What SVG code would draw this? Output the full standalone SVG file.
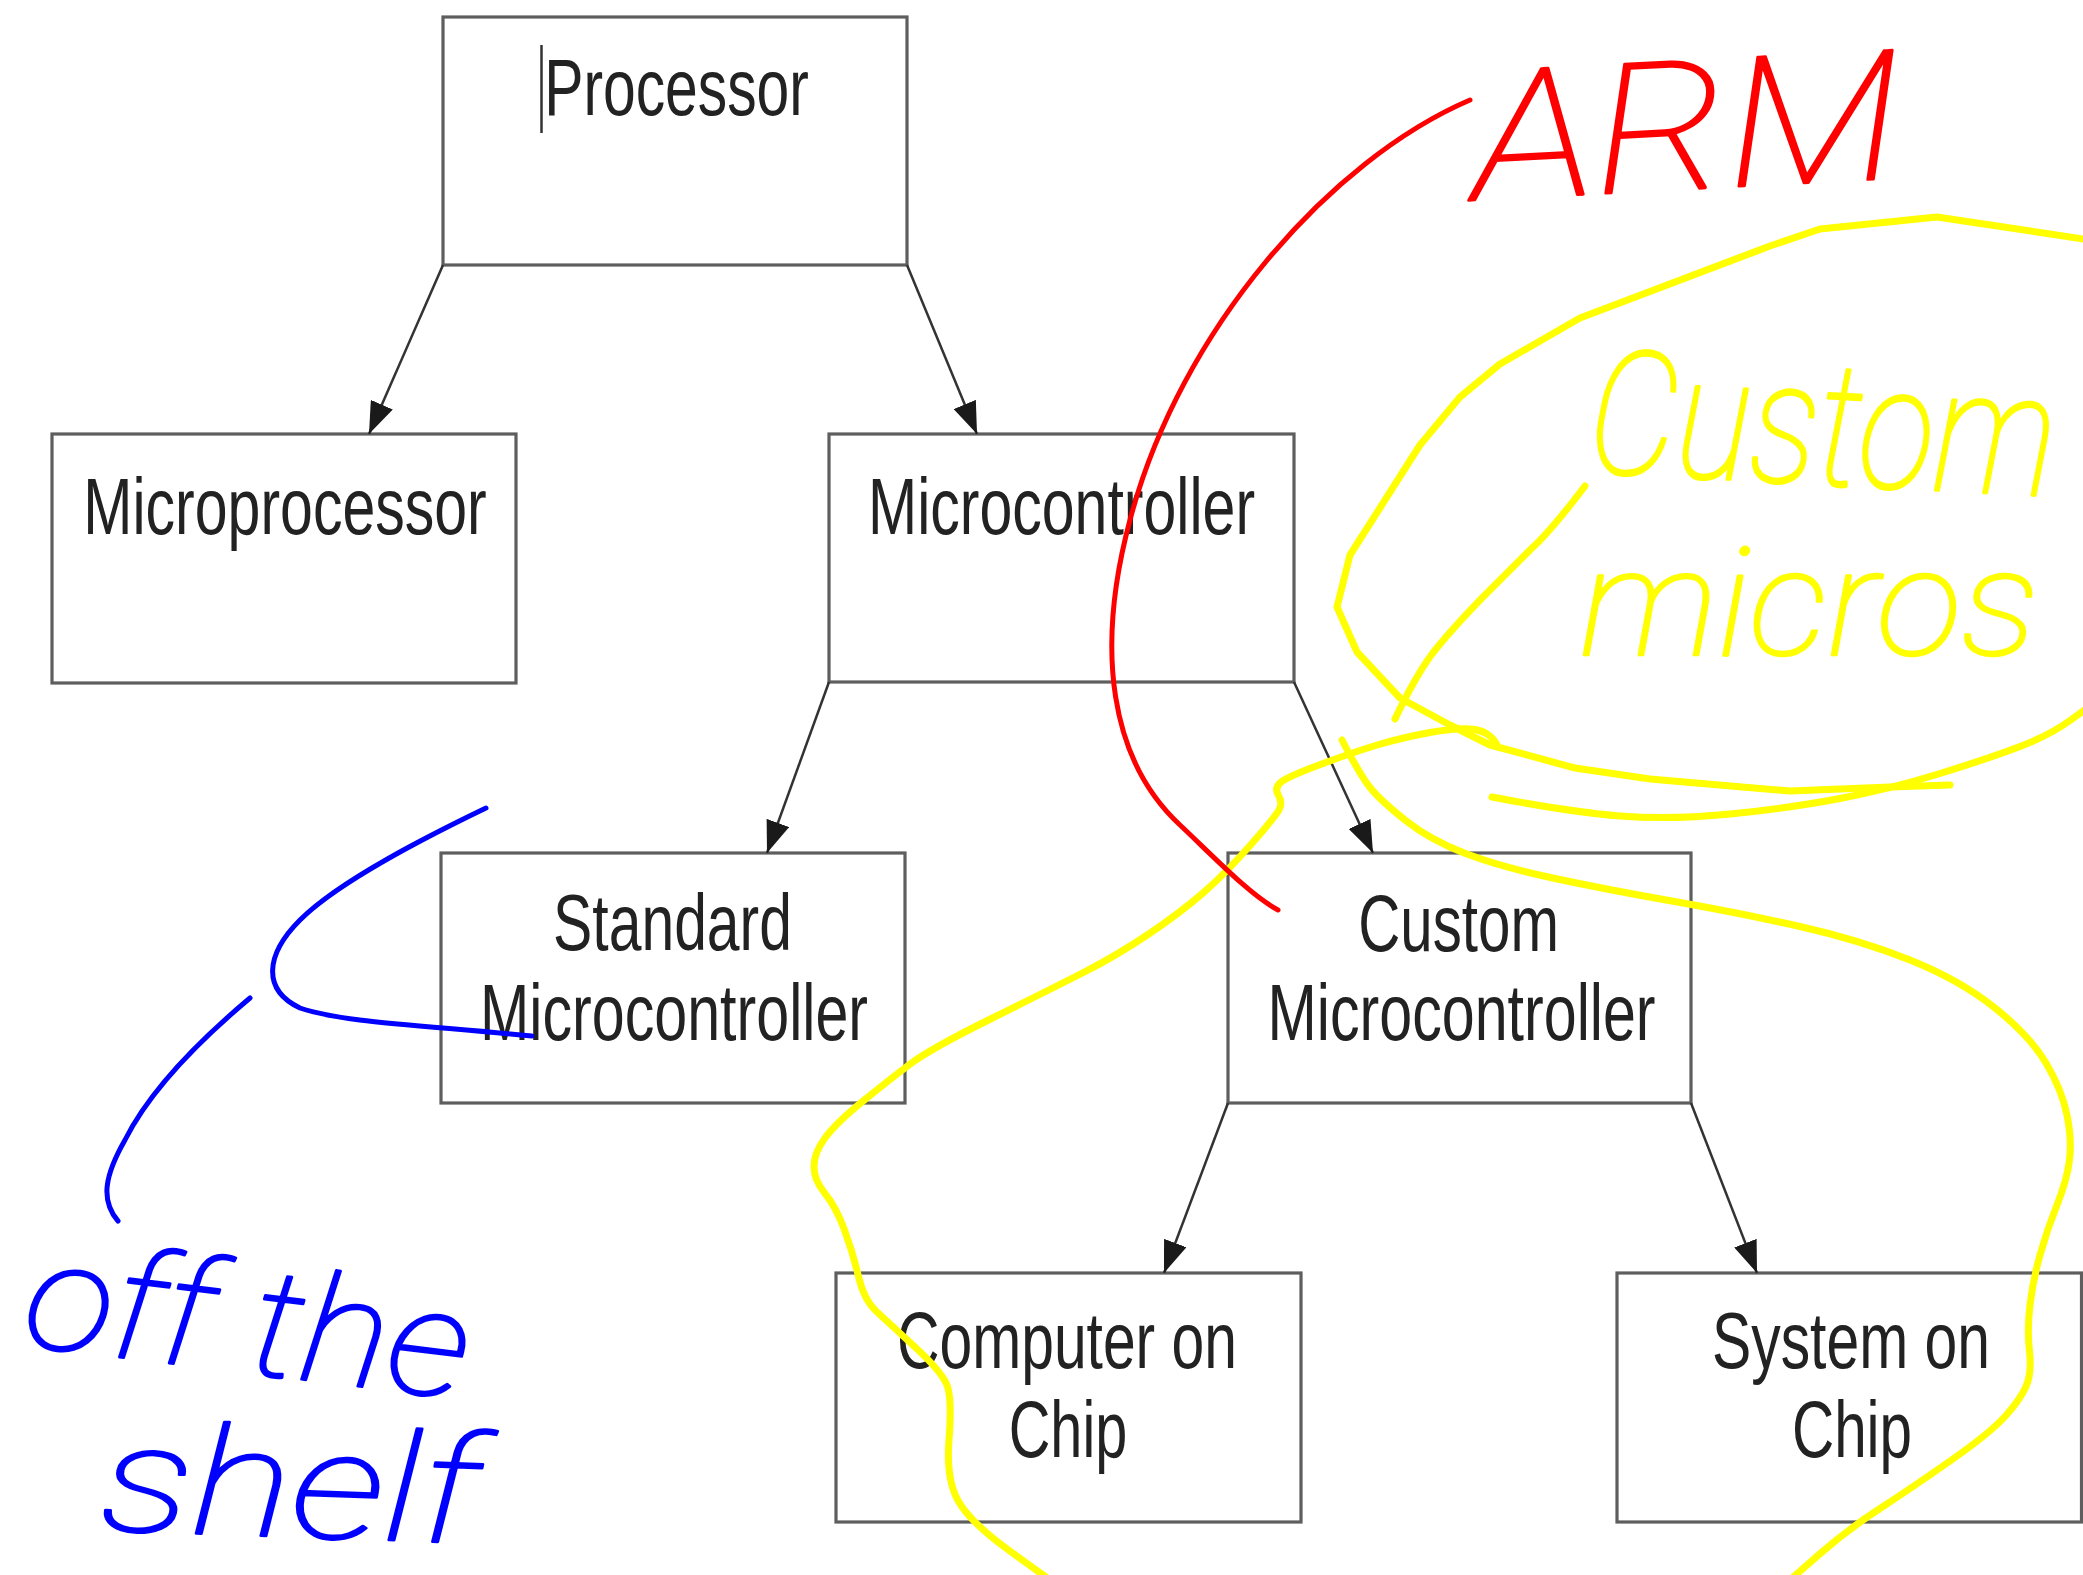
<svg xmlns="http://www.w3.org/2000/svg" width="2083" height="1575" viewBox="0 0 2083 1575">
<style>
.box{fill:#fff;stroke:#5e5e5e;stroke-width:3.2}
.lbl{font-family:"Liberation Sans",Arial,sans-serif;font-size:80px;fill:#222;text-anchor:middle}
.conn{stroke:#333;stroke-width:2.5;fill:none;marker-end:url(#arr)}
.ink{fill:none;stroke-linecap:round;stroke-linejoin:round}
.y{stroke:#ffff00;stroke-width:7}
.r{stroke:#ff0000;stroke-width:5}
.b{stroke:#0000ff;stroke-width:5}
.hw{font-family:Roboto,"Noto Sans","DejaVu Sans",sans-serif;font-weight:100;font-style:italic;stroke-width:2.5;stroke-linejoin:round}
.hy{fill:#ffff00;stroke:#ffff00}
.hr{fill:#ff0000;stroke:#ff0000}
.hb{fill:#0000ff;stroke:#0000ff}
</style>
<defs>
<marker id="arr" markerUnits="userSpaceOnUse" viewBox="0 0 32 24" markerWidth="32" markerHeight="24" refX="32" refY="12" orient="auto">
<path d="M0,0 L32,12 L0,24 z" fill="#1a1a1a"/>
</marker>
</defs>
<rect width="2083" height="1575" fill="#fff"/>

<g id="node-processor">
<rect class="box" x="443" y="17" width="464" height="248"/>
<text class="lbl" transform="translate(676.5,115) scale(0.735,1)">Processor</text>
<line x1="541.5" y1="45" x2="541.5" y2="133" stroke="#333" stroke-width="2.5"/>
</g>
<g id="node-microprocessor">
<rect class="box" x="52" y="434" width="464" height="249"/>
<text class="lbl" transform="translate(285,534) scale(0.738,1)">Microprocessor</text>
</g>
<g id="node-microcontroller">
<rect class="box" x="829" y="434" width="465" height="248"/>
<text class="lbl" transform="translate(1061.5,534) scale(0.738,1)">Microcontroller</text>
</g>
<g id="node-standard">
<rect class="box" x="441" y="853" width="464" height="250"/>
<text class="lbl" transform="translate(672.5,950) scale(0.736,1)">Standard</text>
<text class="lbl" transform="translate(674,1040) scale(0.74,1)">Microcontroller</text>
</g>
<g id="node-custom">
<rect class="box" x="1228" y="853" width="463" height="250"/>
<text class="lbl" transform="translate(1458.6,951) scale(0.728,1)">Custom</text>
<text class="lbl" transform="translate(1461.5,1040) scale(0.74,1)">Microcontroller</text>
</g>
<g id="node-computer-on-chip">
<rect class="box" x="836" y="1273" width="465" height="249"/>
<text class="lbl" transform="translate(1067,1368) scale(0.735,1)">Computer on</text>
<text class="lbl" transform="translate(1068,1457) scale(0.72,1)">Chip</text>
</g>
<g id="node-system-on-chip">
<rect class="box" x="1617" y="1273" width="464.5" height="249"/>
<text class="lbl" transform="translate(1851,1368) scale(0.736,1)">System on</text>
<text class="lbl" transform="translate(1852,1457) scale(0.73,1)">Chip</text>
</g>

<g id="connectors">
<line class="conn" x1="443" y1="265" x2="369" y2="434"/>
<line class="conn" x1="907" y1="265" x2="977" y2="434"/>
<line class="conn" x1="829" y1="682" x2="767" y2="853"/>
<line class="conn" x1="1294" y1="682" x2="1373" y2="853"/>
<line class="conn" x1="1228" y1="1103" x2="1164" y2="1273"/>
<line class="conn" x1="1691" y1="1103" x2="1757" y2="1273"/>
</g>

<g id="ink-yellow">
<polyline class="ink y" points="2090,240 1937,217 1820,229 1770,246 1580,318 1500,364 1460,397 1420,445 1350,555 1337,607 1357,652 1400,698 1450,725 1490,745 1575,768 1650,779 1790,791 1890,787 1950,785"/>
<path class="ink y" d="M1492,797 Q1570,812 1620,816 Q1670,820 1730,814 Q1790,808 1840,798.5 Q1890,789 1940,773.5 Q1990,758 2020,746.5 Q2050,735 2070,720.5 L2090,706"/>
<path class="ink y" d="M1585,486 Q1550,532 1532,548 Q1515,565 1482,598 Q1450,631 1432,654 Q1415,677 1395,719"/>
<path class="ink y" d="M1497,745 Q1490,732 1475,729.5 Q1460,727 1430,732.5 Q1400,738 1375.5,745.5 Q1351,753 1319,765 Q1287,777 1280.5,782.5 Q1274,788 1278.5,795.5 Q1283,803 1279,810 Q1275,817 1250.5,845 Q1226,873 1203,893 Q1180,913 1148,934.5 Q1116,956 1082.5,973 Q1049,990 989.5,1019.5 Q930,1049 909.5,1064.5 Q889,1080 862.5,1101.5 Q836,1123 825,1138 Q814,1153 814,1166.5 Q814,1180 825,1193.5 Q836,1207 844.5,1230 Q853,1253 858.5,1276.5 Q864,1300 876.5,1311.5 Q889,1323 916,1348 Q943,1373 947.5,1386.5 Q952,1400 949,1440 Q946,1480 958.5,1501.5 Q971,1523 1010.5,1551.5 L1050,1580"/>
<path class="ink y" d="M1342,740 Q1360,775 1370,787.5 Q1380,800 1405,820 Q1430,840 1465.5,853.5 Q1501,867 1555,878.5 Q1609,890 1674.5,901.5 Q1740,913 1800,926.5 Q1860,940 1910,960 Q1960,980 1995,1008 Q2030,1036 2046,1063 Q2062,1090 2067,1115 Q2072,1140 2069.5,1160 Q2067,1180 2057,1205 Q2047,1230 2040,1255 Q2033,1280 2030,1305 Q2027,1330 2029.5,1351.5 Q2032,1373 2026,1386.5 Q2020,1400 2005,1416.5 Q1990,1433 1951.5,1460 Q1913,1487 1880,1508.5 Q1847,1530 1818.5,1555 L1790,1580"/>
<text class="hw hy" font-size="150" transform="translate(1587,472) rotate(3) scale(0.9,1.15)" textLength="518" lengthAdjust="spacingAndGlyphs">Custom</text>
<text class="hw hy" font-size="150" x="1580" y="655" textLength="458" lengthAdjust="spacingAndGlyphs">micros</text>
</g>

<g id="ink-red">
<path class="ink r" d="M1470,100 C1330,160 1180,330 1130,520 C1095,650 1110,760 1180,825 C1215,858 1250,895 1278,910"/>
<text class="hw hr" font-size="180" transform="translate(1476,200) rotate(-3)" textLength="428" lengthAdjust="spacingAndGlyphs">ARM</text>
</g>

<g id="ink-blue">
<path class="ink b" d="M486,808 C430,835 340,880 300,920 C265,955 262,990 300,1008 C340,1022 420,1025 532,1036"/>
<path class="ink b" d="M250,998 C200,1040 150,1090 125,1140 C105,1175 100,1200 118,1221"/>
<text class="hw hb" font-size="150" transform="translate(21,1345) rotate(7)" textLength="445" lengthAdjust="spacingAndGlyphs">off the</text>
<text class="hw hb" font-size="150" transform="translate(100,1530) rotate(2)" textLength="377" lengthAdjust="spacingAndGlyphs">shelf</text>
</g>
</svg>
